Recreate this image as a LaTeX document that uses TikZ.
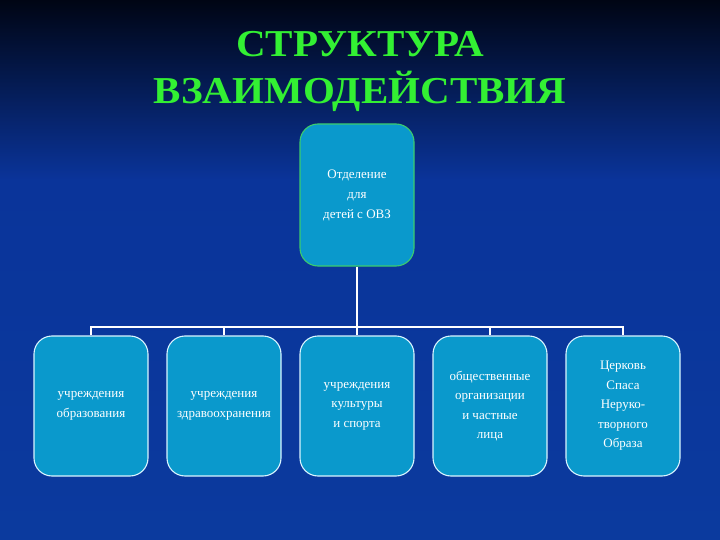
\documentclass[tikz,border=0pt]{standalone}
\usepackage{fontspec}
\setmainfont{Liberation Serif}
\usepackage{tikz}
\usetikzlibrary{positioning,calc}
\definecolor{slidetop}{HTML}{000514}
\definecolor{slideblue}{HTML}{0A349A}
\definecolor{slidelow}{HTML}{0B3A9E}
\definecolor{boxfill}{HTML}{0A99CC}
\definecolor{titlegreen}{HTML}{33F033}
\definecolor{topedge}{HTML}{3CCB6E}
\definecolor{boxedge}{HTML}{D8F4FF}
\tikzset{
  headbox/.style={draw=topedge, line width=1.1pt, rounded corners=18pt, fill=boxfill, minimum width=114pt, minimum height=142pt, align=center, text=white, font=\fontsize{13}{20}\selectfont},
  unitbox/.style={draw=boxedge, line width=1.1pt, rounded corners=18pt, fill=boxfill, minimum width=114pt, minimum height=140pt, align=center, text=white, font=\fontsize{13}{19.5}\selectfont},
  linkline/.style={draw=white, line width=2.6pt},
  titletext/.style={text=titlegreen, align=center, font=\bfseries\fontsize{38}{47}\selectfont}
}

\begin{document}
\begin{tikzpicture}[x=1pt, y=-1pt]
  % slide background
  \useasboundingbox (0,0) rectangle (720,540);
  \shade[top color=slidetop, bottom color=slideblue] (0,0) rectangle (720,180);
  \shade[top color=slideblue, bottom color=slidelow] (0,180) rectangle (720,540);

  \node[titletext, xscale=1.08] (title) at (360,71) {СТРУКТУРА\\ВЗАИМОДЕЙСТВИЯ};

  \node[headbox] (ovz) at (357,195) {Отделение\\для\\детей с ОВЗ};

  \node[unitbox] (b1) at (91,406) {учреждения\\образования};
  \node[unitbox] (b2) at (224,406) {учреждения\\здравоохранения};
  \node[unitbox] (b3) at (357,406) {учреждения\\культуры\\и спорта};
  \node[unitbox] (b4) at (490,406) {общественные\\организации\\и частные\\лица};
  \node[unitbox] (b5) at (623,406) {Церковь\\Спаса\\Неруко-\\творного\\Образа};

  \coordinate (bus) at (357,327);
  \draw[linkline] (ovz) -- (bus);
  \foreach \b in {b1,b2,b3,b4,b5}
    \draw[linkline] (bus) -| (\b);
\end{tikzpicture}
\end{document}
